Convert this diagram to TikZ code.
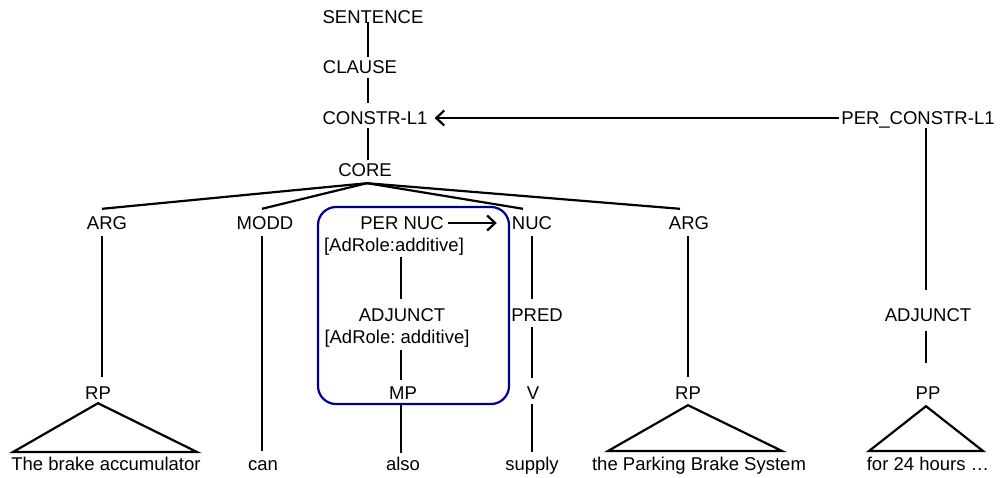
\documentclass[tikz,border=0pt]{standalone}
\usepackage{fontspec}
\setmainfont{Liberation Sans}
\usetikzlibrary{arrows.meta}
\definecolor{boxblue}{RGB}{0,0,144}
\frenchspacing
\begin{document}
\begin{tikzpicture}[x=1pt,y=-1pt,
  lbl/.style={inner sep=0pt, text height=13pt, text depth=0pt, font=\fontsize{18.5}{20}\selectfont},
  edge/.style={line width=2.2pt},
  arr/.style={line width=2.2pt, -{Straight Barb[length=8pt,width=15pt,line width=2.2pt]}},
  grp/.style={draw=boxblue, line width=2.2pt, rounded corners=18pt}]
\useasboundingbox (0,0) rectangle (1000,477);
% nodes
\node[lbl] (SENT) at (373,17) {SENTENCE};
\node[lbl] (CLAUSE) at (360,67) {CLAUSE};
\node[lbl] (CONSTR) at (375,118) {CONSTR-L1};
\node[lbl] (CORE) at (365,170) {CORE};
\node[lbl] (PERC) at (918,118) {PER\_CONSTR-L1};
\node[lbl] (ARG1) at (107,223) {ARG};
\node[lbl] (MODD) at (265,223) {MODD};
\node[lbl] (PERNUC) at (402,223) {PER NUC};
\node[lbl] (AR1) at (394,245) {[AdRole:additive]};
\node[lbl] (NUC) at (532,223) {NUC};
\node[lbl] (ARG2) at (689,223) {ARG};
\node[lbl] (ADJ) at (402,315) {ADJUNCT};
\node[lbl] (AR2) at (397,337) {[AdRole: additive]};
\node[lbl] (PRED) at (537,315) {PRED};
\node[lbl] (ADJ2) at (928,315) {ADJUNCT};
\node[lbl] (RP1) at (98,393) {RP};
\node[lbl] (MP) at (403,393) {MP};
\node[lbl] (V) at (533,393) {V};
\node[lbl] (RP2) at (688,393) {RP};
\node[lbl] (PP) at (928,393) {PP};
\node[lbl] (W1) at (106,464) {The brake accumulator};
\node[lbl] (W2) at (263,464) {can};
\node[lbl] (W3) at (403,464) {also};
\node[lbl] (W4) at (532,464) {supply};
\node[lbl] (W5) at (699,464) {the Parking Brake System};
\node[lbl] (W6) at (928,464) {for 24 hours \ldots};
% group box
\draw[grp] (318,207) rectangle (509,404);
% spine
\draw[edge] ([xshift=-5pt,yshift=1.5pt]SENT.south) -- ([xshift=8pt,yshift=3.5pt]CLAUSE.north);
\draw[edge] ([xshift=8pt,yshift=-4.5pt]CLAUSE.south) -- ([xshift=-7pt,yshift=8.5pt]CONSTR.north);
\draw[edge] ([xshift=-7pt,yshift=-3.5pt]CONSTR.south) -- ([xshift=3pt,yshift=3.5pt]CORE.north);
\draw[arr] ([xshift=-2pt]PERC.west) -- ([xshift=7pt]CONSTR.east);
% core fan
\coordinate (apex) at ([xshift=2pt,yshift=-6.5pt]CORE.south);
\draw[edge] (apex) -- ([xshift=-5pt,yshift=7.5pt]ARG1.north);
\draw[edge] (apex) -- ([xshift=-3pt,yshift=7.5pt]MODD.north);
\draw[edge] (apex) -- ([xshift=-9pt,yshift=7.5pt]NUC.north);
\draw[edge] (apex) -- ([xshift=-9pt,yshift=7.5pt]ARG2.north);
% verticals
\draw[edge] ([xshift=-5pt,yshift=-6.5pt]ARG1.south) -- ([xshift=4pt,yshift=9.5pt]RP1.north);
\draw[edge] ([xshift=-3pt,yshift=-6.5pt]MODD.south) -- ([xshift=-1pt,yshift=6.5pt]W2.north);
\draw[edge] ([yshift=-6.5pt]NUC.south) -- ([xshift=-5pt,yshift=9.5pt]PRED.north);
\draw[edge] ([xshift=-5pt,yshift=-5.5pt]PRED.south) -- ([xshift=-1pt,yshift=8.5pt]V.north);
\draw[edge] ([xshift=-1pt,yshift=-4.5pt]V.south) -- ([yshift=5.5pt]W4.north);
\draw[edge] ([xshift=-1pt,yshift=-6.5pt]ARG2.south) -- ([yshift=9.5pt]RP2.north);
\draw[edge] ([xshift=8pt,yshift=-3.5pt]PERC.south) -- ([xshift=-2pt,yshift=18.5pt]ADJ2.north);
\draw[edge] ([xshift=-2pt,yshift=-9.5pt]ADJ2.south) -- ([xshift=-2pt,yshift=23.5pt]PP.north);
% inside box
\draw[arr] ([xshift=4.5pt]PERNUC.east) -- ([xshift=-15pt]NUC.west);
\draw[edge] ([xshift=7pt,yshift=-5.5pt]AR1.south) -- ([xshift=-1pt,yshift=9.5pt]ADJ.north);
\draw[edge] ([xshift=4pt,yshift=-6.5pt]AR2.south) -- ([xshift=-2pt,yshift=6.5pt]MP.north);
\draw[edge] ([xshift=-2pt,yshift=-4.5pt]MP.south) -- ([xshift=-2pt,yshift=4.5pt]W3.north);
% triangles
\coordinate (t1l) at (13,452); \coordinate (t1r) at (197,452);
\coordinate (t2l) at (608,451); \coordinate (t2r) at (782,451);
\coordinate (t3l) at (869,451); \coordinate (t3r) at (983,451);
\draw[edge, line join=miter] ([yshift=-3.5pt]RP1.south) -- (t1l) -- (t1r) -- cycle;
\draw[edge, line join=miter] ([yshift=-5.5pt]RP2.south) -- (t2l) -- (t2r) -- cycle;
\draw[edge, line join=miter] ([xshift=-2pt,yshift=-6.5pt]PP.south) -- (t3l) -- (t3r) -- cycle;
\end{tikzpicture}
\end{document}
